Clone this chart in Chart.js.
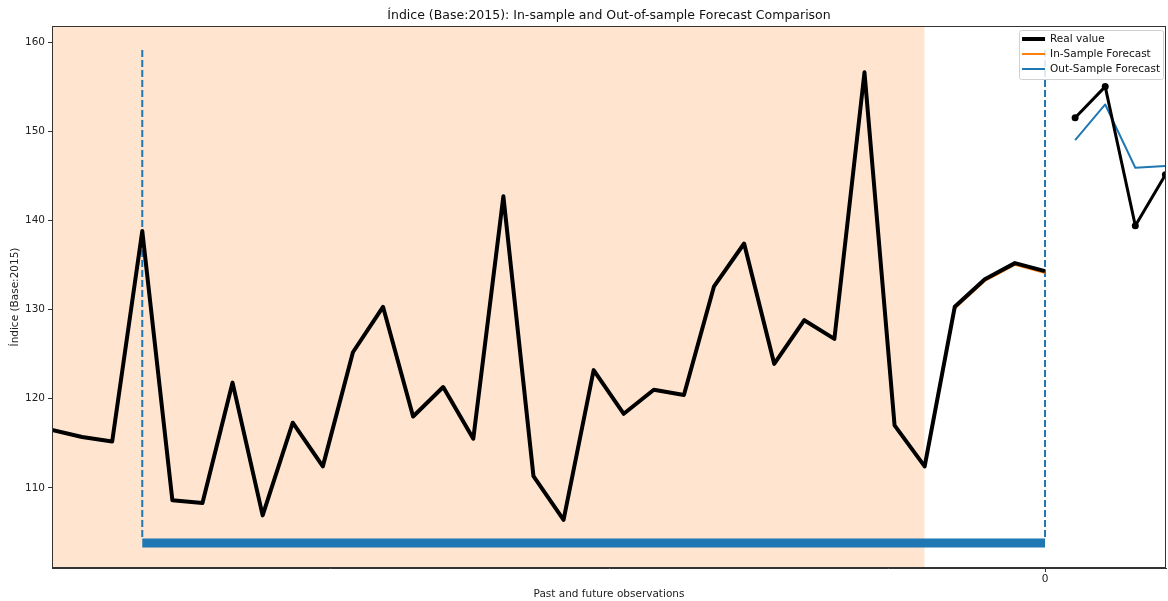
<!DOCTYPE html>
<html>
<head>
<meta charset="utf-8">
<script src="https://cdn.jsdelivr.net/npm/chart.js@4.4.1/dist/chart.umd.min.js"></script>
<style>
  html, body { margin: 0; padding: 0; background: #fff; }
  #wrap { width: 1168px; height: 601px; }
</style>
</head>
<body>
<div id="wrap"><canvas id="chart"></canvas></div>
<script>
// past observations, index -33 .. 0
const pastX = [];
for (let i = -33; i <= 0; i++) pastX.push(i);
const pastReal = [116.5, 115.7, 115.2, 138.8, 108.6, 108.3, 121.8, 106.9, 117.3, 112.4,
                  125.2, 130.3, 118.0, 121.3, 115.5, 142.7, 111.3, 106.4, 123.2, 118.3,
                  121.0, 120.4, 132.6, 137.4, 123.9, 128.8, 126.7, 156.6, 117.0, 112.4,
                  130.3, 133.4, 135.2, 134.3];

// in-sample forecast over the last few past points
const inSampleX = [-3, -2, -1, 0];
const inSample = [130.1, 133.2, 135.0, 134.1];

// future observations and out-of-sample forecast
const futureX = [1, 2, 3, 4];
const futureReal = [151.5, 155.0, 139.4, 145.1];
const outSample = [149.0, 153.0, 145.9, 146.1];

// forecast window markers
const windowStart = -30;
const windowEnd = 0;
const markerTop = 159.1;
const markerBottom = 104.2;
const barLevel = 103.8;
const trainEnd = -4;

const yMin = 101.0, yMax = 161.8;
const xMin = -33, xMax = 4.02;

const titleText = 'Índice (Base:2015): In-sample and Out-of-sample Forecast Comparison';
const legendLabels = ['Real value', 'In-Sample Forecast', 'Out-Sample Forecast'];
const legendColors = ['#000000', '#ff7f0e', '#1f77b4'];
const legendWidths = [4, 2, 2];

const pts = (xs, ys) => xs.map((x, i) => ({ x: x, y: ys[i] }));

// matplotlib-like frame, axes-centred title and inline legend box
const framePlugin = {
  id: 'frame',
  afterDraw(chart) {
    const { ctx, chartArea: a } = chart;
    ctx.save();
    ctx.strokeStyle = '#333';
    ctx.lineWidth = 1;
    ctx.strokeRect(a.left + 0.5, a.top + 0.5, a.right - a.left - 1, a.bottom - a.top - 1);

    ctx.font = '12.5px "DejaVu Sans", sans-serif';
    ctx.fillStyle = '#111';
    ctx.textAlign = 'center';
    ctx.textBaseline = 'middle';
    ctx.fillText(titleText, (a.left + a.right) / 2, a.top - 10);

    ctx.font = '10.5px "DejaVu Sans", sans-serif';
    ctx.textAlign = 'left';
    let tw = 0;
    legendLabels.forEach(l => { tw = Math.max(tw, ctx.measureText(l).width); });
    const rowH = 15;
    const boxW = 34 + tw;
    const boxH = rowH * legendLabels.length + 4;
    const bx = a.right - 3 - boxW;
    const by = a.top + 4;
    ctx.fillStyle = 'rgba(255,255,255,0.85)';
    ctx.strokeStyle = '#d0d0d0';
    ctx.beginPath();
    ctx.roundRect(bx + 0.5, by + 0.5, boxW, boxH, 2);
    ctx.fill();
    ctx.stroke();
    legendLabels.forEach((l, i) => {
      const yy = by + 9 + i * rowH;
      ctx.strokeStyle = legendColors[i];
      ctx.lineWidth = legendWidths[i];
      ctx.beginPath();
      ctx.moveTo(bx + 3, yy);
      ctx.lineTo(bx + 26, yy);
      ctx.stroke();
      ctx.fillStyle = '#111';
      ctx.fillText(l, bx + 31, yy);
    });
    ctx.restore();
  }
};

new Chart(document.getElementById('chart'), {
  type: 'line',
  data: {
    datasets: [
      {
        label: 'train', data: pts([xMin, trainEnd], [yMax, yMax]),
        borderWidth: 0, pointRadius: 0, fill: 'start',
        backgroundColor: '#ffe5cf', order: 20
      },
      {
        label: 'Real value', data: pts(pastX, pastReal),
        borderColor: '#000', borderWidth: 4, borderJoinStyle: 'round', pointRadius: 0, order: 1
      },
      {
        label: 'In-Sample Forecast', data: pts(inSampleX, inSample),
        borderColor: '#ff7f0e', borderWidth: 2, pointRadius: 0, order: 2
      },
      {
        label: 'Real value (future)', data: pts(futureX, futureReal),
        borderColor: '#000', backgroundColor: '#000', borderWidth: 3, borderJoinStyle: 'round',
        pointRadius: 3.5, pointBorderWidth: 0, order: 1
      },
      {
        label: 'Out-Sample Forecast', data: pts(futureX, outSample),
        borderColor: '#1f77b4', borderWidth: 2, borderJoinStyle: 'round', pointRadius: 0, order: 2
      },
      {
        label: 'start', data: pts([windowStart, windowStart], [markerTop, markerBottom]),
        borderColor: '#1f77b4', borderWidth: 2, borderDash: [7, 3], pointRadius: 0, order: 5
      },
      {
        label: 'end', data: pts([windowEnd, windowEnd], [markerTop, markerBottom]),
        borderColor: '#1f77b4', borderWidth: 2, borderDash: [7, 3], pointRadius: 0, order: 5
      },
      {
        label: 'window', data: pts([windowStart, windowEnd], [barLevel, barLevel]),
        borderColor: '#1f77b4', borderWidth: 9, borderCapStyle: 'butt', pointRadius: 0, order: 4
      }
    ]
  },
  options: {
    responsive: true,
    maintainAspectRatio: false,
    animation: false,
    layout: { autoPadding: false, padding: { left: 9, right: 2, top: 26, bottom: 0 } },
    plugins: {
      legend: { display: false },
      tooltip: { enabled: false },
      title: { display: false }
    },
    scales: {
      x: {
        type: 'linear', min: xMin, max: xMax,
        afterBuildTicks: s => { s.ticks = [{ value: 0 }]; },
        afterFit: s => { s.height = 33; },
        grid: { drawOnChartArea: false, drawTicks: true, tickLength: 4, color: '#333' },
        border: { display: true, color: '#333' },
        ticks: { color: '#222', padding: 1, font: { family: '"DejaVu Sans", sans-serif', size: 10.5 } },
        title: {
          display: true, text: 'Past and future observations', color: '#222',
          font: { family: '"DejaVu Sans", sans-serif', size: 10.5 }, padding: { top: 0, bottom: 0 }
        }
      },
      y: {
        min: yMin, max: yMax,
        afterBuildTicks: s => { s.ticks = s.ticks.filter(t => t.value % 10 === 0); },
        afterFit: s => { s.width = 43; },
        grid: { drawOnChartArea: false, drawTicks: true, tickLength: 4, color: '#333' },
        border: { display: true, color: '#333' },
        ticks: { stepSize: 10, color: '#222', padding: 3, font: { family: '"DejaVu Sans", sans-serif', size: 10.5 } },
        title: {
          display: true, text: 'Índice (Base:2015)', color: '#222',
          font: { family: '"DejaVu Sans", sans-serif', size: 10.5 }, padding: { top: 0, bottom: 4 }
        }
      }
    }
  },
  plugins: [framePlugin]
});
</script>
</body>
</html>
